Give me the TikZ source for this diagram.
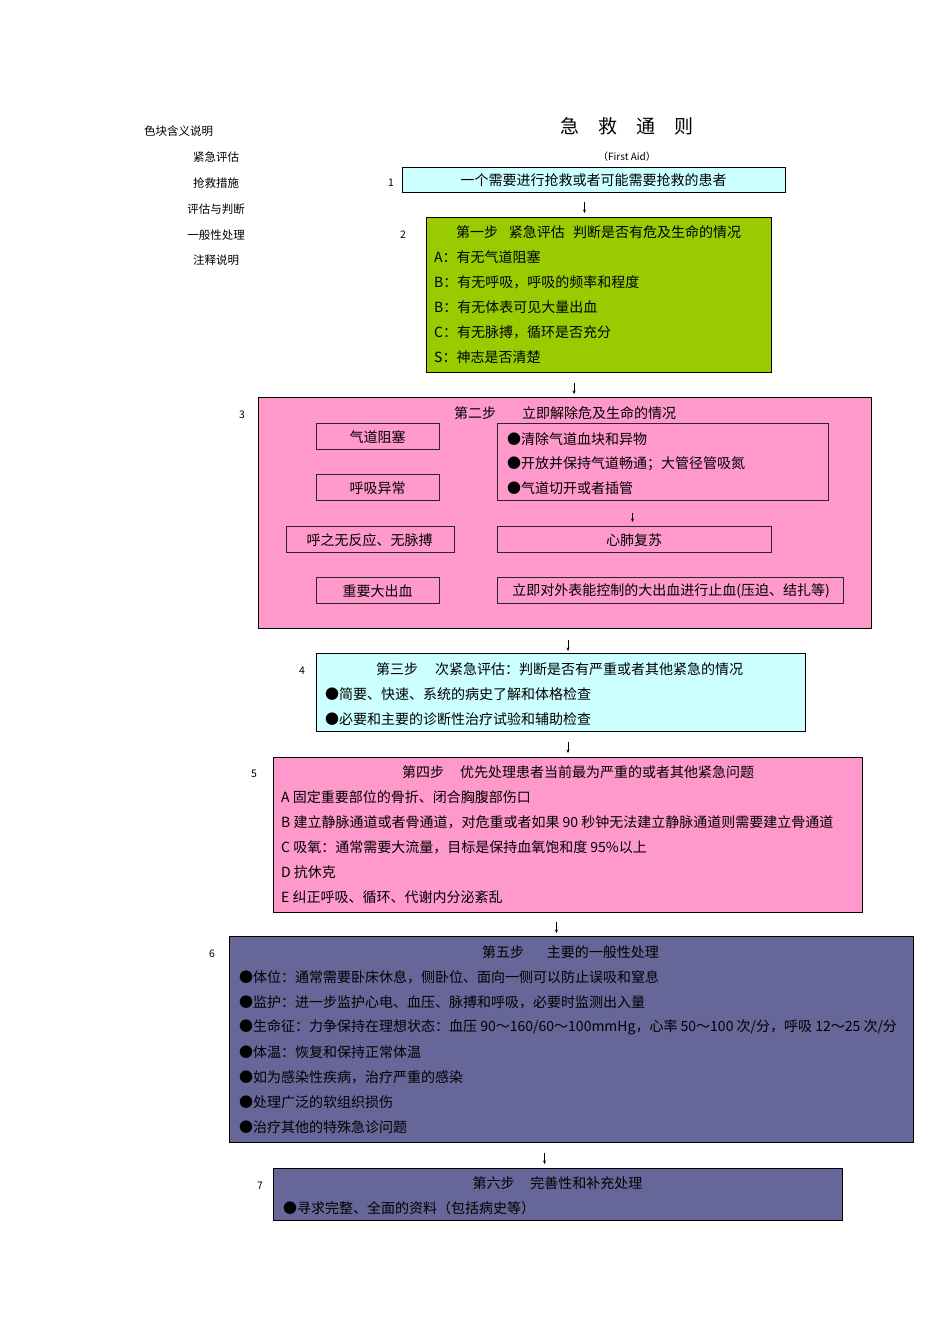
\documentclass[tikz,border=0pt]{standalone}
\usepackage{fontspec}
\setmainfont{Noto Sans CJK SC}
\usetikzlibrary{arrows.meta}
\definecolor{cyanbox}{HTML}{CCFFFF}
\definecolor{greenbox}{HTML}{99CC00}
\definecolor{pinkbox}{HTML}{FF99CC}
\definecolor{purplebox}{HTML}{666699}
\tikzset{
  panel/.style={draw=black, line width=0.8pt, anchor=north west, inner sep=0pt},
  subbox/.style={draw=black!85, line width=0.9pt, anchor=north west, inner sep=0pt, font=\fontsize{14}{16}\selectfont},
  txt/.style={anchor=west, inner sep=0pt, font=\fontsize{14}{16}\selectfont},
  ctxt/.style={anchor=center, inner sep=0pt, font=\fontsize{14}{16}\selectfont},
  legend/.style={anchor=center, inner sep=0pt, font=\fontsize{11.5}{13}\selectfont},
  numlabel/.style={anchor=center, inner sep=0pt, font=\fontsize{10.5}{12}\selectfont},
  flowarrow/.style={line width=0.6pt, -{Stealth[length=3.5pt,width=3pt]}}
}
\begin{document}
\begin{tikzpicture}[x=1pt,y=-1pt]
\useasboundingbox[fill=white] (0,0) rectangle (950,1344);

% legend
\node[legend, anchor=west] (lg0) at (144,131) {色块含义说明};
\node[legend] (lg1) at (216,157) {紧急评估};
\node[legend] (lg2) at (216,183) {抢救措施};
\node[legend] (lg3) at (216,209) {评估与判断};
\node[legend] (lg4) at (216,235) {一般性处理};
\node[legend] (lg5) at (216,260) {注释说明};

% title
\node[anchor=center, inner sep=0pt, font=\fontsize{19}{21}\selectfont] (title) at (627,126) {急\hspace{19pt}救\hspace{19pt}通\hspace{19pt}则};
\node[legend, font=\fontsize{10}{12}\selectfont] (sub) at (627,157) {（First Aid）};

% step numbers
\node[numlabel] (n1) at (391,183) {1};
\node[numlabel] (n2) at (403,235) {2};
\node[numlabel] (n3) at (242,415) {3};
\node[numlabel] (n4) at (302,671) {4};
\node[numlabel] (n5) at (254,774) {5};
\node[numlabel] (n6) at (212,954) {6};
\node[numlabel] (n7) at (260,1186) {7};

% box 1
\node[panel, fill=cyanbox, minimum width=383, minimum height=25] (b1) at (402,167) {};
\node[ctxt] (t1) at (593.5,180.5) {一个需要进行抢救或者可能需要抢救的患者};

% box 2
\node[panel, fill=greenbox, minimum width=345, minimum height=155] (b2) at (426,217) {};
\node[ctxt] (t2t) at (598.5,232) {第一步\hspace{11pt}紧急评估\hspace{8pt}判断是否有危及生命的情况};
\node[txt] (t2a) at (434,257) {A：有无气道阻塞};
\node[txt] (t2b) at (434,282) {B：有无呼吸，呼吸的频率和程度};
\node[txt] (t2c) at (434,307) {B：有无体表可见大量出血};
\node[txt] (t2d) at (434,332) {C：有无脉搏，循环是否充分};
\node[txt] (t2e) at (434,357) {S：神志是否清楚};

% box 3
\node[panel, fill=pinkbox, minimum width=613, minimum height=231] (b3) at (258,397) {};
\node[ctxt] (t3t) at (565,413) {第二步\hspace{26pt}立即解除危及生命的情况};
\node[subbox, minimum width=123, minimum height=26] (s1) at (316,422.5) {};
\node[ctxt] (s1t) at (377.5,437) {气道阻塞};
\node[subbox, minimum width=123, minimum height=26] (s2) at (316,474) {};
\node[ctxt] (s2t) at (377.5,488) {呼吸异常};
\node[subbox, minimum width=168, minimum height=26] (s3) at (285.5,525.5) {};
\node[ctxt] (s3t) at (369.5,540) {呼之无反应、无脉搏};
\node[subbox, minimum width=123, minimum height=26] (s4) at (316,576.5) {};
\node[ctxt] (s4t) at (377.5,591) {重要大出血};
\node[subbox, minimum width=331, minimum height=77.5] (r1) at (497,422.5) {};
\node[txt] (r1a) at (507,439) {●清除气道血块和异物};
\node[txt] (r1b) at (507,464) {●开放并保持气道畅通；大管径管吸氮};
\node[txt] (r1c) at (507,488.5) {●气道切开或者插管};
\node[subbox, minimum width=274, minimum height=26] (r2) at (497,525.5) {};
\node[ctxt] (r2t) at (634,540) {心肺复苏};
\node[subbox, minimum width=345.5, minimum height=26] (r3) at (497,576.5) {};
\node[ctxt] (r3t) at (671,591) {立即对外表能控制的大出血进行止血(压迫、结扎等)};
\coordinate (ai1) at (632.5,513);
\coordinate (ai2) at (632.5,522);
\draw[flowarrow] (ai1) -- (ai2);

% box 4
\node[panel, fill=cyanbox, minimum width=489, minimum height=78] (b4) at (316,653) {};
\node[ctxt] (t4t) at (559.5,669.5) {第三步\hspace{17pt}次紧急评估：判断是否有严重或者其他紧急的情况};
\node[txt] (t4a) at (325,694.5) {●简要、快速、系统的病史了解和体格检查};
\node[txt] (t4b) at (325,719) {●必要和主要的诊断性治疗试验和辅助检查};

% box 5
\node[panel, fill=pinkbox, minimum width=589, minimum height=154.5] (b5) at (273,757) {};
\node[txt] (t5t) at (402,772.5) {第四步\hspace{16pt}优先处理患者当前最为严重的或者其他紧急问题};
\node[txt] (t5a) at (281,797.5) {A 固定重要部位的骨折、闭合胸腹部伤口};
\node[txt] (t5b) at (281,822.5) {B 建立静脉通道或者骨通道，对危重或者如果 90 秒钟无法建立静脉通道则需要建立骨通道};
\node[txt] (t5c) at (281,847.5) {C 吸氧：通常需要大流量，目标是保持血氧饱和度 95\%以上};
\node[txt] (t5d) at (281,872.5) {D 抗休克};
\node[txt] (t5e) at (281,897) {E 纠正呼吸、循环、代谢内分泌紊乱};

% box 6
\node[panel, fill=purplebox, minimum width=684, minimum height=206] (b6) at (229,936) {};
\node[ctxt] (t6t) at (570.5,952) {第五步\hspace{23pt}主要的一般性处理};
\node[txt] (t6a) at (239,977) {●体位：通常需要卧床休息，侧卧位、面向一侧可以防止误吸和窒息};
\node[txt] (t6b) at (239,1002) {●监护：进一步监护心电、血压、脉搏和呼吸，必要时监测出入量};
\node[txt] (t6c) at (239,1027) {●生命征：力争保持在理想状态：血压 90～160/60～100mmHg，心率 50～100 次/分，呼吸 12～25 次/分};
\node[txt] (t6d) at (239,1052) {●体温：恢复和保持正常体温};
\node[txt] (t6e) at (239,1077) {●如为感染性疾病，治疗严重的感染};
\node[txt] (t6f) at (239,1102) {●处理广泛的软组织损伤};
\node[txt] (t6g) at (239,1127) {●治疗其他的特殊急诊问题};

% box 7
\node[panel, fill=purplebox, minimum width=569, minimum height=52] (b7) at (273,1168) {};
\node[ctxt] (t7t) at (557.5,1183.5) {第六步\hspace{16pt}完善性和补充处理};
\node[txt] (t7a) at (283,1208) {●寻求完整、全面的资料（包括病史等）};

% connecting arrows
\coordinate (a1s) at (584.5,202); \coordinate (a1e) at (584.5,213);
\coordinate (a2s) at (574,383);   \coordinate (a2e) at (574,394);
\coordinate (a3s) at (568,640);   \coordinate (a3e) at (568,651);
\coordinate (a4s) at (568,742);   \coordinate (a4e) at (568,753);
\coordinate (a5s) at (556.5,922); \coordinate (a5e) at (556.5,933);
\coordinate (a6s) at (544.5,1153);\coordinate (a6e) at (544.5,1164);
\draw[flowarrow] (a1s) -- (a1e);
\draw[flowarrow] (a2s) -- (a2e);
\draw[flowarrow] (a3s) -- (a3e);
\draw[flowarrow] (a4s) -- (a4e);
\draw[flowarrow] (a5s) -- (a5e);
\draw[flowarrow] (a6s) -- (a6e);
\end{tikzpicture}
\end{document}
